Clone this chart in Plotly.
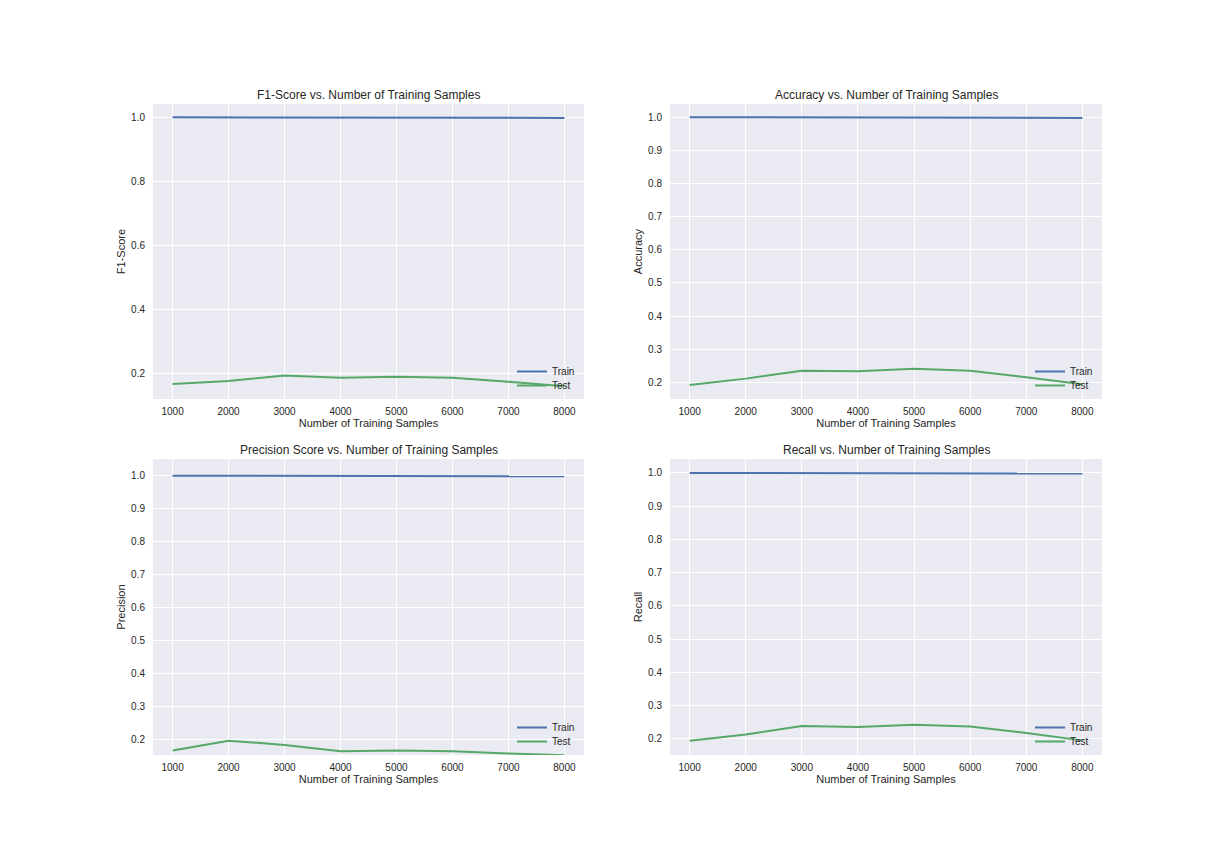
import plotly.graph_objects as go

samples = [1000, 2000, 3000, 4000, 5000, 6000, 7000, 8000]

f1_train = [1.000, 1.000, 0.999, 0.999, 0.998, 0.998, 0.998, 0.998]
f1_test = [0.169, 0.178, 0.195, 0.188, 0.191, 0.188, 0.176, 0.162]

acc_train = [1.000, 1.000, 0.999, 0.999, 0.998, 0.998, 0.998, 0.998]
acc_test = [0.192, 0.211, 0.235, 0.233, 0.241, 0.235, 0.215, 0.194]

prec_train = [1.000, 1.000, 0.999, 0.999, 0.998, 0.998, 0.998, 0.998]
prec_test = [0.167, 0.197, 0.184, 0.165, 0.167, 0.165, 0.158, 0.153]

rec_train = [1.000, 1.000, 0.999, 0.999, 0.998, 0.998, 0.998, 0.998]
rec_test = [0.194, 0.213, 0.238, 0.235, 0.242, 0.237, 0.217, 0.195]

titles = [
    "F1-Score vs. Number of Training Samples",
    "Accuracy vs. Number of Training Samples",
    "Precision Score vs. Number of Training Samples",
    "Recall vs. Number of Training Samples",
]
ylabels = ["F1-Score", "Accuracy", "Precision", "Recall"]
series = [(f1_train, f1_test), (acc_train, acc_test), (prec_train, prec_test), (rec_train, rec_test)]
series_names = ["Train", "Test"]

W, H = 1224, 864
OFF = 8  # page body margin
# plot boxes in target-image pixels (x0, x1, ytop, ybottom)
boxes = [(153, 584, 104, 399), (670, 1102, 104, 399), (153, 584, 459, 755), (670, 1102, 459, 755)]
yranges = [[0.122, 1.0415], [0.1495, 1.040], [0.1535, 1.0505], [0.151, 1.042]]
ydticks = [0.2, 0.1, 0.1, 0.1]

BLUE = "#4C72B0"
GREEN = "#55A868"
COLORS = [BLUE, GREEN]
TXT = "#262626"
FONT = "Liberation Sans, Arial, sans-serif"


def px(xp):
    return (xp - OFF) / W


def py(yp):
    return 1 - (yp - OFF) / H


fig = go.Figure()
layout = dict(
    width=W, height=H,
    margin=dict(l=0, r=0, t=0, b=0),
    paper_bgcolor="white",
    plot_bgcolor="#EAEAF2",
    font=dict(family=FONT, color=TXT, size=11),
    showlegend=True,
    annotations=[],
)

legend_idx = 0
for i in range(4):
    x0, x1, yt, yb = boxes[i]
    n = "" if i == 0 else str(i + 1)
    xa, ya = "x" + n, "y" + n
    xdom = [px(x0), px(x1)]
    ydom = [py(yb), py(yt)]
    for k in range(2):
        legend_idx += 1
        lg = "legend" if legend_idx == 1 else "legend" + str(legend_idx)
        fig.add_trace(go.Scatter(x=samples, y=series[i][k], mode="lines", name=series_names[k],
                                 line=dict(color=COLORS[k], width=2), xaxis=xa, yaxis=ya, legend=lg))
        layout[lg] = dict(
            x=px(x1 - 32 - 40), xanchor="left",
            y=py(yb - (27.5 if k == 0 else 13.5)), yanchor="middle",
            bgcolor="rgba(0,0,0,0)", borderwidth=0, font=dict(size=10, color=TXT),
            itemwidth=30,
        )
    layout["xaxis" + n] = dict(
        domain=xdom, anchor=ya, range=[650, 8350], tickmode="linear", tick0=1000, dtick=1000,
        showgrid=True, gridcolor="white", gridwidth=1.2, zeroline=False, showline=False,
        ticks="outside", ticklen=3, tickcolor="rgba(0,0,0,0)",
        tickfont=dict(size=10, color=TXT),
        title=dict(text="Number of Training Samples", font=dict(size=11, color=TXT), standoff=3),
        automargin=False,
    )
    layout["yaxis" + n] = dict(
        domain=ydom, anchor=xa, range=yranges[i], tickmode="linear", tick0=0.0, dtick=ydticks[i],
        tickformat=".1f",
        showgrid=True, gridcolor="white", gridwidth=1.2, zeroline=False, showline=False,
        ticks="outside", ticklen=5, tickcolor="rgba(0,0,0,0)",
        tickfont=dict(size=10, color=TXT),
        title=dict(text=ylabels[i], font=dict(size=11, color=TXT), standoff=3),
        automargin=False,
    )
    layout["annotations"].append(dict(
        text=titles[i], x=(xdom[0] + xdom[1]) / 2, y=ydom[1],
        xref="paper", yref="paper", xanchor="center", yanchor="bottom",
        showarrow=False, font=dict(size=12, color=TXT),
    ))

fig.update_layout(**layout)
fig.write_html("out.html")
